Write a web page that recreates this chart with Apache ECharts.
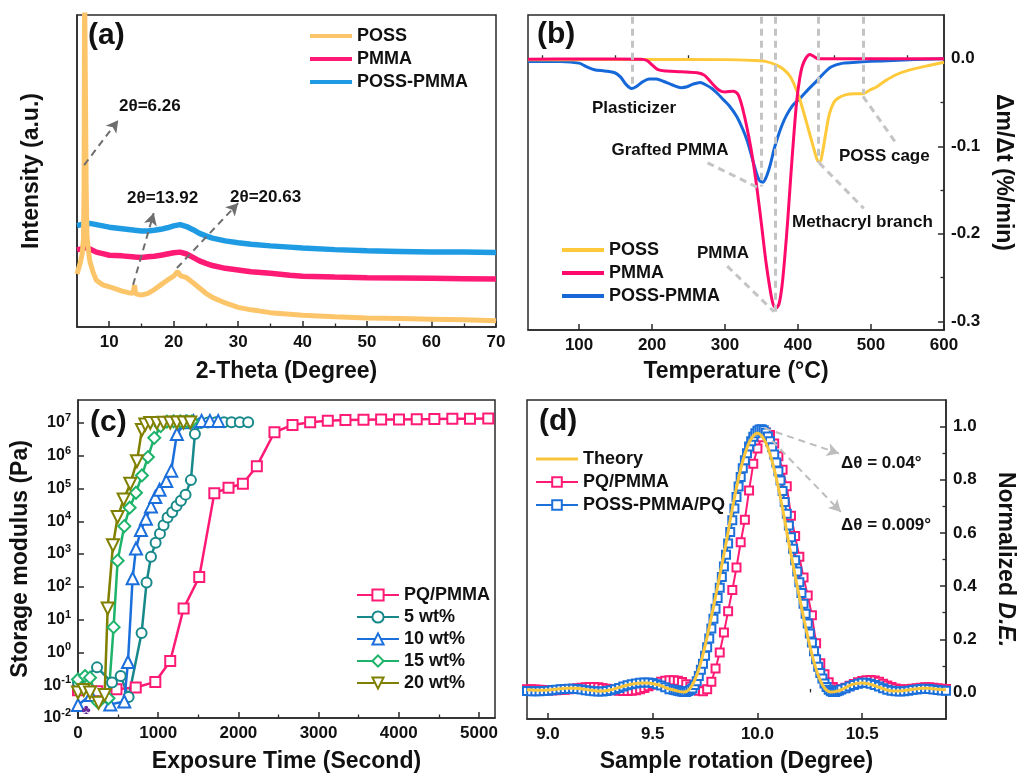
<!DOCTYPE html>
<html><head><meta charset="utf-8">
<script src="https://cdn.jsdelivr.net/npm/echarts@6/dist/echarts.min.js"></script>
<style>html,body{margin:0;padding:0;background:#fff}#c{width:1018px;height:777px}</style>
</head><body><div id="c"></div>
<script>
// ---------- (a) XRD ----------
const aPOSS = [[5,17],[5.5,20.5],[5.8,23.5],[6.0,28],[6.1,45],[6.18,110],[6.34,110],[6.42,45],[6.55,29],[6.8,24],[7.0,21],[7.5,17.5],[8,15],[9,13.5],[10,12.9],[11,12.2],[12,11.5],[13,11],[13.7,10.8],[13.92,13.4],[14.1,10.6],[15,10.2],[16,10.8],[17,12],[18,13.5],[19,15],[20,16.3],[20.63,17.8],[21,16.5],[22,15.8],[23,14.2],[24,12.5],[25,10.8],[26,9.5],[28,7.7],[30,6.3],[32,5.5],[35,4.6],[40,3.8],[45,3.3],[50,2.9],[55,2.7],[60,2.5],[65,2.3],[70,2.0]];
const aPMMA = [[5,24.7],[6,25.2],[6.5,25.5],[7,25],[8,24],[9,23.5],[10,23],[12,22.8],[14,22.4],[15,22.3],[16,22.5],[17,22.7],[18,23],[19,23.4],[20,23.8],[21,24],[22,23.4],[23,22.3],[24,21.2],[25,20.4],[26,19.7],[28,18.8],[30,18.3],[32,17.7],[35,17.2],[38,16.6],[40,16.3],[45,16],[50,15.8],[55,15.7],[60,15.6],[65,15.5],[70,15.4]];
const aPOSSPMMA = [[5,32.5],[6,33],[7,33.2],[8,32.8],[10,32],[12,31.5],[14,31],[15,30.8],[16,30.8],[17,31],[18,31.3],[19,31.8],[20,32.4],[21,32.8],[22,32.2],[23,31.2],[24,30],[25,29.2],[26,28.5],[28,27.6],[30,27],[32,26.5],[35,26],[38,25.6],[40,25.3],[45,24.8],[50,24.4],[55,24.2],[60,24],[65,24],[70,23.9]];
const aArrows = [[[6.1,51.9],[11.4,66.3]],[[13.7,13.5],[16.9,36.5]],[[20.5,18.9],[30.0,39.7]]];
const aXMajor = [10,20,30,40,50,60,70];
const aXMinor = [15,25,35,45,55,65];

// ---------- (b) DTG ----------
const bPOSS = [[30,-0.001],[100,-0.001],[200,-0.0008],[300,-0.001],[340,-0.002],[355,-0.003],[370,-0.007],[380,-0.012],[389,-0.020],[396,-0.032],[403,-0.048],[410,-0.068],[416,-0.086],[422,-0.104],[427,-0.117],[430,-0.118],[434,-0.105],[438,-0.085],[443,-0.063],[449,-0.050],[455,-0.045],[466,-0.041],[478,-0.040],[489,-0.040],[498,-0.036],[508,-0.032],[520,-0.025],[535,-0.018],[552,-0.013],[572,-0.009],[600,-0.004]];
const bPMMA = [[30,-0.0005],[100,-0.0003],[150,-0.0003],[185,-0.0005],[193,-0.002],[200,-0.007],[208,-0.0125],[220,-0.014],[240,-0.0148],[262,-0.016],[272,-0.019],[282,-0.028],[292,-0.036],[300,-0.038],[311,-0.037],[318,-0.041],[325,-0.060],[332,-0.087],[338,-0.115],[344,-0.150],[350,-0.190],[356,-0.232],[362,-0.265],[366,-0.281],[370,-0.285],[374,-0.280],[378,-0.260],[382,-0.225],[386,-0.183],[390,-0.135],[394,-0.090],[398,-0.050],[402,-0.024],[406,-0.008],[411,0.001],[416,0.005],[421,0.003],[428,0.000],[450,0],[500,0],[550,0],[600,0]];
const bPOSSPMMA = [[30,-0.003],[75,-0.003],[100,-0.005],[110,-0.009],[121,-0.0125],[135,-0.014],[149,-0.016],[157,-0.021],[164,-0.029],[172,-0.034],[178,-0.032],[186,-0.027],[196,-0.023],[206,-0.023],[216,-0.026],[228,-0.030],[240,-0.033],[248,-0.032],[256,-0.029],[266,-0.027],[274,-0.030],[282,-0.034],[290,-0.040],[298,-0.047],[306,-0.054],[316,-0.066],[324,-0.080],[330,-0.093],[336,-0.110],[342,-0.128],[347,-0.139],[352,-0.141],[357,-0.134],[362,-0.121],[367,-0.104],[372,-0.090],[378,-0.076],[384,-0.065],[393,-0.053],[403,-0.045],[414,-0.035],[426,-0.025],[436,-0.016],[444,-0.010],[452,-0.007],[462,-0.005],[480,-0.004],[500,-0.003],[530,-0.002],[560,-0.001],[600,0.0]];
const bDropTop = 0.048;
const bDrops = [[173,-0.034],[350,-0.146],[369,-0.289],[428,-0.119],[489,-0.040]];
const bLeaders = [[[276,-0.119],[347,-0.148]],[[303,-0.237],[367,-0.289]],[[429,-0.119],[490,-0.171]],[[489,-0.043],[534,-0.096]]];
const bXMajor = [100,200,300,400,500,600];
const bXMinor = [50,150,250,350,450,550];
const bYMajor = [-0.3,-0.2,-0.1,0];
const bYMinor = [-0.25,-0.15,-0.05];

// ---------- (c) rheology ----------
const cPQ = [[0,0.07],[240,0.065],[480,0.075],[720,0.085],[964,0.126],[1150,0.55],[1317,22],[1512,200],[1700,7.2e4],[1877,1.05e5],[2056,1.4e5],[2230,4.8e5],[2450,5.2e6],[2675,8.7e6],[2895,1.05e7],[3115,1.17e7],[3335,1.22e7],[3560,1.25e7],[3780,1.27e7],[4003,1.28e7],[4224,1.30e7],[4444,1.31e7],[4668,1.33e7],[4888,1.34e7],[5116,1.36e7]];
const c5 = [[0,0.12],[237,0.35],[424,0.12],[532,0.19],[631,0.044],[793,3.9],[855,135],[910,830],[968,2200],[1022,4200],[1067,7600],[1117,1.3e4],[1175,1.9e4],[1229,2.9e4],[1283,4.2e4],[1341,6.5e4],[1408,1.8e5],[1458,4.6e6],[1530,1.0e7],[1620,1.03e7],[1720,1.05e7],[1820,1.05e7],[1915,1.05e7],[2018,1.05e7],[2122,1.05e7]];
const c10 = [[0,0.025],[160,0.05],[403,0.026],[577,0.032],[623,0.51],[681,182],[723,1480],[785,5400],[847,1.2e4],[910,2.8e4],[964,5.5e4],[1017,9.2e4],[1101,1.7e5],[1163,3.5e5],[1233,4.6e6],[1340,1.05e7],[1440,1.12e7],[1541,1.15e7],[1645,1.15e7],[1748,1.15e7]];
const c15 = [[0,0.15],[87,0.19],[150,0.17],[250,0.03],[380,0.04],[444,5.9],[494,630],[577,7100],[644,2.6e4],[723,7.4e4],[797,2.5e5],[872,9.1e5],[951,3.5e6],[1030,8e6],[1109,1.1e7],[1192,1.12e7],[1275,1.12e7],[1358,1.12e7],[1420,1.12e7]];
const c20 = [[0,0.06],[71,0.072],[150,0.06],[257,0.029],[332,0.05],[370,22],[436,1860],[494,1.35e4],[569,4.6e4],[652,1.4e5],[735,6.8e5],[797,6.1e6],[839,8.9e6],[901,1.0e7],[984,1.0e7],[1067,1.02e7],[1150,1.02e7],[1233,1.03e7],[1316,1.03e7],[1400,1.03e7]];
const cXMajor = [0,1000,2000,3000,4000,5000];
const cXMinor = [500,1500,2500,3500,4500];
const cYMajor = [0.01,0.1,1,10,100,1e3,1e4,1e5,1e6,1e7];

// ---------- (d) angular selectivity ----------
const dTheory = [[8.900,0.010],[8.925,0.009],[8.950,0.008],[8.975,0.008],[9.000,0.009],[9.025,0.011],[9.050,0.013],[9.075,0.015],[9.100,0.016],[9.125,0.016],[9.150,0.015],[9.175,0.012],[9.200,0.009],[9.225,0.006],[9.250,0.005],[9.275,0.006],[9.300,0.010],[9.325,0.015],[9.350,0.021],[9.375,0.027],[9.400,0.031],[9.425,0.034],[9.450,0.035],[9.475,0.035],[9.500,0.033],[9.525,0.029],[9.550,0.022],[9.575,0.014],[9.600,0.009],[9.625,0.004],[9.650,0.002],[9.675,0.012],[9.700,0.045],[9.725,0.100],[9.750,0.175],[9.775,0.265],[9.800,0.360],[9.825,0.460],[9.850,0.560],[9.875,0.670],[9.900,0.770],[9.925,0.855],[9.950,0.920],[9.975,0.960],[10.000,0.975],[10.025,0.960],[10.050,0.920],[10.075,0.855],[10.100,0.770],[10.125,0.670],[10.150,0.560],[10.175,0.460],[10.200,0.360],[10.225,0.265],[10.250,0.175],[10.275,0.100],[10.300,0.045],[10.325,0.012],[10.350,0.002],[10.375,0.004],[10.400,0.010],[10.425,0.020],[10.450,0.029],[10.475,0.034],[10.500,0.035],[10.525,0.033],[10.550,0.028],[10.575,0.021],[10.600,0.014],[10.625,0.008],[10.650,0.005],[10.675,0.005],[10.700,0.007],[10.725,0.010],[10.750,0.013],[10.775,0.015],[10.800,0.016],[10.825,0.015],[10.850,0.013],[10.875,0.011],[10.900,0.010]];
const dPQPMMA = [[8.90,0.012],[8.92,0.012],[8.94,0.011],[8.96,0.010],[8.98,0.009],[9.00,0.008],[9.02,0.008],[9.04,0.008],[9.06,0.009],[9.08,0.010],[9.10,0.012],[9.12,0.014],[9.14,0.016],[9.16,0.018],[9.18,0.019],[9.20,0.020],[9.22,0.020],[9.24,0.019],[9.26,0.017],[9.28,0.014],[9.30,0.011],[9.32,0.008],[9.34,0.006],[9.36,0.005],[9.38,0.005],[9.40,0.006],[9.42,0.008],[9.44,0.012],[9.46,0.017],[9.48,0.023],[9.50,0.029],[9.52,0.035],[9.54,0.040],[9.56,0.044],[9.58,0.046],[9.60,0.046],[9.62,0.044],[9.64,0.039],[9.66,0.031],[9.68,0.022],[9.70,0.013],[9.72,0.006],[9.74,0.004],[9.76,0.012],[9.78,0.040],[9.80,0.090],[9.82,0.150],[9.84,0.225],[9.86,0.305],[9.88,0.385],[9.90,0.470],[9.92,0.565],[9.94,0.650],[9.96,0.760],[9.98,0.860],[10.00,0.918],[10.02,0.960],[10.04,0.978],[10.06,0.968],[10.08,0.936],[10.10,0.888],[10.12,0.838],[10.14,0.776],[10.16,0.665],[10.18,0.588],[10.20,0.510],[10.22,0.432],[10.24,0.365],[10.26,0.290],[10.28,0.185],[10.30,0.110],[10.32,0.068],[10.34,0.038],[10.36,0.020],[10.38,0.012],[10.40,0.013],[10.42,0.018],[10.44,0.025],[10.46,0.032],[10.48,0.038],[10.50,0.043],[10.52,0.046],[10.54,0.047],[10.56,0.045],[10.58,0.040],[10.60,0.033],[10.62,0.026],[10.64,0.020],[10.66,0.015],[10.68,0.012],[10.70,0.011],[10.72,0.012],[10.74,0.014],[10.76,0.016],[10.78,0.018],[10.80,0.019],[10.82,0.019],[10.84,0.018],[10.86,0.016],[10.88,0.014],[10.90,0.013]];
const dPOSSPQ = [[8.90,0.005],[8.92,0.004],[8.94,0.004],[8.96,0.004],[8.98,0.005],[9.00,0.006],[9.02,0.008],[9.04,0.010],[9.06,0.012],[9.08,0.013],[9.10,0.014],[9.12,0.014],[9.14,0.013],[9.16,0.011],[9.18,0.008],[9.20,0.006],[9.22,0.004],[9.24,0.003],[9.26,0.003],[9.28,0.005],[9.30,0.008],[9.32,0.012],[9.34,0.017],[9.36,0.022],[9.38,0.027],[9.40,0.031],[9.42,0.034],[9.44,0.036],[9.46,0.037],[9.48,0.037],[9.50,0.035],[9.52,0.031],[9.54,0.026],[9.56,0.019],[9.58,0.012],
[9.60,0.010],[9.61,0.008],[9.62,0.006],[9.63,0.004],[9.64,0.003],[9.65,0.002],[9.66,0.002],[9.67,0.005],[9.68,0.009],[9.69,0.015],[9.70,0.028],[9.71,0.042],[9.72,0.062],[9.73,0.085],[9.74,0.108],[9.75,0.138],[9.76,0.170],[9.77,0.203],[9.78,0.240],[9.79,0.277],[9.80,0.315],[9.81,0.355],[9.82,0.394],[9.83,0.434],[9.84,0.474],[9.85,0.518],[9.86,0.560],[9.87,0.603],[9.88,0.648],[9.89,0.692],[9.90,0.735],[9.91,0.775],[9.92,0.810],[9.93,0.843],[9.94,0.873],[9.95,0.900],[9.96,0.925],[9.97,0.945],[9.98,0.962],[9.99,0.975],[10.00,0.984],[10.01,0.989],[10.02,0.990],[10.03,0.986],[10.04,0.977],[10.05,0.963],[10.06,0.945],[10.07,0.922],[10.08,0.895],[10.09,0.865],[10.10,0.832],[10.11,0.797],[10.12,0.758],[10.13,0.716],[10.14,0.672],[10.15,0.628],[10.16,0.584],[10.17,0.540],[10.18,0.497],[10.19,0.455],[10.20,0.414],[10.21,0.374],[10.22,0.334],[10.23,0.296],[10.24,0.259],[10.25,0.222],[10.26,0.188],[10.27,0.155],[10.28,0.125],[10.29,0.097],[10.30,0.073],[10.31,0.052],[10.32,0.034],[10.33,0.020],[10.34,0.010],[10.35,0.004],[10.36,0.002],[10.37,0.002],[10.38,0.004],[10.39,0.007],[10.40,0.011],
[10.42,0.016],[10.44,0.022],[10.46,0.028],[10.48,0.033],[10.50,0.036],[10.52,0.036],[10.54,0.033],[10.56,0.028],[10.58,0.022],[10.60,0.016],[10.62,0.010],[10.64,0.006],[10.66,0.004],[10.68,0.003],[10.70,0.004],[10.72,0.006],[10.74,0.009],[10.76,0.011],[10.78,0.013],[10.80,0.014],[10.82,0.013],[10.84,0.011],[10.86,0.009],[10.88,0.007],[10.90,0.006]];
const dArrows = [[[10.033,0.994],[10.389,0.899]],[[10.07,0.947],[10.398,0.679]]];
const dXMajor = [9.0,9.5,10.0,10.5];
const dXMinor = [9.25,9.75,10.25,10.75];
const dYMajor = [0,0.2,0.4,0.6,0.8,1.0];
const dYMinor = [0.1,0.3,0.5,0.7,0.9];

// ---------- styling ----------
const FONT = '"Liberation Sans", Arial, Helvetica, sans-serif';
const INK = '#111';
const EDGE = '#2a2a2a';
const COL = {
  aPOSS:'#FDC56A', aPMMA:'#FF1A75', aPP:'#1E9BE3',
  bPOSS:'#FFC93C', bPMMA:'#FF0A6C', bPP:'#1668D8',
  pq:'#FF1A75', w5:'#18898A', w10:'#1B6FDC', w15:'#1DB36B', w20:'#808000',
  theory:'#F9C53A', dPP:'#1C70DA'
};
const lbl = {color:INK, fontSize:17, fontWeight:'bold', fontFamily:FONT};
const nameStyle = {color:INK, fontSize:23, fontWeight:'bold', fontFamily:FONT};
const fx1 = v => (Math.abs(v) < 1e-9 ? 0 : v).toFixed(1);

function mainAxis(o) {
  return Object.assign({
    type:'value', nameLocation:'middle', nameTextStyle:nameStyle,
    axisLine:{show:true, onZero:false, lineStyle:{color:EDGE, width:1.5}},
    axisTick:{show:true, inside:true, length:6, lineStyle:{color:EDGE, width:1.5}, customValues:o.majors},
    axisLabel:Object.assign({show:true, margin:7, customValues:o.majors, formatter:o.fmt}, lbl),
    splitLine:{show:false}, minorTick:{show:false}, minorSplitLine:{show:false}
  }, o.ext);
}
function minorAxis(o) {
  return Object.assign({
    type:'value', axisLine:{show:false},
    axisTick:{show:true, inside:true, length:3.5, lineStyle:{color:EDGE, width:1.3}, customValues:o.minors},
    axisLabel:{show:false}, splitLine:{show:false}
  }, o.ext);
}

const xAxis = [
  mainAxis({majors:aXMajor, fmt:v=>String(v), ext:{gridIndex:0, position:'bottom', min:5, max:70, name:'2-Theta (Degree)', nameGap:33}}),
  minorAxis({minors:aXMinor, ext:{gridIndex:0, position:'bottom', min:5, max:70}}),
  mainAxis({majors:bXMajor, fmt:v=>String(v), ext:{gridIndex:1, position:'bottom', min:30, max:600, name:'Temperature (°C)', nameGap:30}}),
  minorAxis({minors:bXMinor, ext:{gridIndex:1, position:'bottom', min:30, max:600}}),
  mainAxis({majors:cXMajor, fmt:v=>String(v), ext:{gridIndex:2, position:'bottom', min:0, max:5200, name:'Exposure Time (Second)', nameGap:32}}),
  minorAxis({minors:cXMinor, ext:{gridIndex:2, position:'bottom', min:0, max:5200}}),
  mainAxis({majors:dXMajor, fmt:fx1, ext:{gridIndex:3, position:'bottom', min:8.9, max:10.9, name:'Sample rotation (Degree)', nameGap:31}}),
  minorAxis({minors:dXMinor, ext:{gridIndex:3, position:'bottom', min:8.9, max:10.9}})
];
const yAxis = [
  Object.assign(mainAxis({majors:[], fmt:v=>'', ext:{gridIndex:0, position:'left', min:0, max:100, name:'Intensity (a.u.)', nameGap:34}}), {axisTick:{show:false}, axisLabel:{show:false}}),
  mainAxis({majors:bYMajor, fmt:fx1, ext:{gridIndex:1, position:'right', min:-0.31, max:0.05, name:'Δm/Δt (%/min)', nameGap:48, nameRotate:-90}}),
  minorAxis({minors:bYMinor, ext:{gridIndex:1, position:'right', min:-0.31, max:0.05}}),
  Object.assign(mainAxis({majors:cYMajor, fmt:v=>'{b|10}{s|' + Math.round(Math.log10(v)) + '}', ext:{gridIndex:2, position:'left', name:'Storage modulus (Pa)', nameGap:46}}),
    {type:'log', logBase:10, min:0.01, max:5e7}),
  mainAxis({majors:dYMajor, fmt:fx1, ext:{gridIndex:3, position:'right', min:-0.1, max:1.1, name:'Normalized {i|D.E.}', nameGap:48, nameRotate:-90}}),
  minorAxis({minors:dYMinor, ext:{gridIndex:3, position:'right', min:-0.1, max:1.1}})
];
yAxis[3].axisLabel.rich = {
  b:{fontSize:16, fontWeight:'bold', fontFamily:FONT, color:INK},
  s:{fontSize:11, fontWeight:'bold', fontFamily:FONT, color:INK, verticalAlign:'top', padding:[0,0,10,0]}
};
yAxis[4].nameTextStyle = Object.assign({}, nameStyle, {rich:{i:{fontStyle:'italic', fontSize:23, fontWeight:'bold', fontFamily:FONT, color:INK}}});

function arrowLines(pairs, color, width, head) {
  return {
    silent:true, symbol:['none', head ? 'arrow' : 'none'], symbolSize:[10,12], animation:false,
    label:{show:false}, emphasis:{disabled:true},
    lineStyle:{type:[7,5], color:color, width:width, opacity:1},
    data:pairs.map(p => [{coord:p[0]},{coord:p[1]}])
  };
}
const bVertical = bDrops.map(d => [[d[0], bDropTop],[d[0], d[1]]]);

function lineS(name, data, color, xi, yi, ext) {
  return Object.assign({type:'line', name:name, data:data, xAxisIndex:xi, yAxisIndex:yi,
    showSymbol:false, symbol:'none', animation:false, clip:true,
    lineStyle:{color:color, width:3}, itemStyle:{color:color}}, ext);
}
function markS(name, data, color, sym, size, xi, yi, ext) {
  return Object.assign({type:'line', name:name, data:data, xAxisIndex:xi, yAxisIndex:yi,
    symbol:sym, symbolSize:size, showSymbol:true, showAllSymbol:true, animation:false, clip:true,
    lineStyle:{color:color, width:2.5}, itemStyle:{color:color, borderColor:color, borderWidth:2.3}}, ext);
}

const series = [
  lineS('PMMA', aPMMA, COL.aPMMA, 0, 0, {lineStyle:{color:COL.aPMMA, width:5.5}, z:2}),
  lineS('POSS-PMMA', aPOSSPMMA, COL.aPP, 0, 0, {lineStyle:{color:COL.aPP, width:5.5}, z:2}),
  lineS('POSS', aPOSS, COL.aPOSS, 0, 0, {lineStyle:{color:COL.aPOSS, width:5}, z:3,
     markLine:arrowLines(aArrows, '#6e6e6e', 2, true)}),

  lineS('POSS-PMMA', bPOSSPMMA, COL.bPP, 2, 1, {smooth:0.3, z:2,
     markLine:arrowLines(bVertical.concat(bLeaders), '#c4c4c4', 3, false)}),
  lineS('POSS', bPOSS, COL.bPOSS, 2, 1, {smooth:0.3, z:3}),
  lineS('PMMA', bPMMA, COL.bPMMA, 2, 1, {smooth:0.3, z:4}),

  markS('PQ/PMMA', cPQ, COL.pq, 'emptyRect', 10, 4, 3),
  markS('5 wt%', c5, COL.w5, 'emptyCircle', 10, 4, 3),
  markS('10 wt%', c10, COL.w10, 'emptyTriangle', 12, 4, 3),
  markS('15 wt%', c15, COL.w15, 'emptyDiamond', 12, 4, 3),
  markS('20 wt%', c20, COL.w20, 'emptyTriangle', 12, 4, 3, {symbolRotate:180}),

  markS('PQ/PMMA', dPQPMMA, COL.pq, 'emptyRect', 8, 6, 4, {lineStyle:{color:COL.pq, width:2}, itemStyle:{color:COL.pq, borderColor:COL.pq, borderWidth:2}}),
  markS('POSS-PMMA/PQ', dPOSSPQ, COL.dPP, 'emptyRect', 8, 6, 4, {lineStyle:{color:COL.dPP, width:2}, itemStyle:{color:COL.dPP, borderColor:COL.dPP, borderWidth:2},
     markLine:arrowLines(dArrows, '#bdbdbd', 2, true)}),
  lineS('Theory', dTheory, COL.theory, 6, 4, {smooth:0.4, z:5})
];

const legTxt = {color:INK, fontSize:18, fontWeight:'bold', fontFamily:FONT};
const legend = [
  {left:310, top:27, orient:'vertical', icon:'rect', itemWidth:42, itemHeight:4, itemGap:5, padding:0, textStyle:legTxt, selectedMode:false,
   data:[{name:'POSS', itemStyle:{color:COL.aPOSS}},{name:'PMMA', itemStyle:{color:COL.aPMMA}},{name:'POSS-PMMA', itemStyle:{color:COL.aPP}}]},
  {left:562, top:241, orient:'vertical', icon:'rect', itemWidth:42, itemHeight:4, itemGap:5, padding:0, textStyle:legTxt, selectedMode:false,
   data:[{name:'POSS', itemStyle:{color:COL.bPOSS}},{name:'PMMA', itemStyle:{color:COL.bPMMA}},{name:'POSS-PMMA', itemStyle:{color:COL.bPP}}]},
  {left:356, top:586, orient:'vertical', itemWidth:42, itemHeight:14, itemGap:4, padding:0, textStyle:legTxt, selectedMode:false,
   data:['PQ/PMMA','5 wt%','10 wt%','15 wt%','20 wt%']},
  {left:535, top:450, orient:'vertical', itemWidth:42, itemHeight:12, itemGap:5, padding:0, textStyle:legTxt, selectedMode:false,
   data:[{name:'Theory', icon:'path://M0,0L42,0L42,3L0,3Z', itemStyle:{color:COL.theory}},'PQ/PMMA','POSS-PMMA/PQ']}
];

function txt(s, x, y, size, align, extra) {
  return {type:'text', x:x, y:y, silent:true, z:100, style:Object.assign({text:s, fill:INK,
    font:'bold ' + size + 'px ' + FONT, textAlign:align||'left', textVerticalAlign:'middle', align:align||'left', verticalAlign:'middle'}, extra||{})};
}
const graphic = [
  txt('(a)', 88, 36, 30), txt('2θ=6.26', 119, 106, 17), txt('2θ=13.92', 127, 198, 17), txt('2θ=20.63', 230, 197, 17),
  txt('(b)', 537, 35, 30), txt('Plasticizer', 634, 108, 17, 'center'), txt('Grafted PMMA', 670, 150, 17, 'center'),
  txt('POSS cage', 839, 156, 17), txt('Methacryl branch', 792, 222, 17), txt('PMMA', 697, 253, 17),
  txt('(c)', 90, 423, 30), txt('♣', 86, 710, 14, 'center', {fill:'#6a2a9a'}),
  txt('(d)', 539, 422, 30), txt('Δθ = 0.04°', 841, 463, 17), txt('Δθ = 0.009°', 841, 525, 17)
];

const grid = [
  {left:77, top:15, width:419, height:312},
  {left:528, top:15, width:416, height:315},
  {left:78, top:400, width:417, height:318},
  {left:527, top:400, width:421, height:319}
].map(g => Object.assign(g, {show:true, borderColor:EDGE, borderWidth:1.5, backgroundColor:'transparent', containLabel:false}));

const chart = echarts.init(document.getElementById('c'), null, {renderer:'canvas'});
chart.setOption({animation:false, backgroundColor:'#fff', textStyle:{fontFamily:FONT}, grid, xAxis, yAxis, series, legend, graphic, tooltip:{show:false}});
</script></body></html>
